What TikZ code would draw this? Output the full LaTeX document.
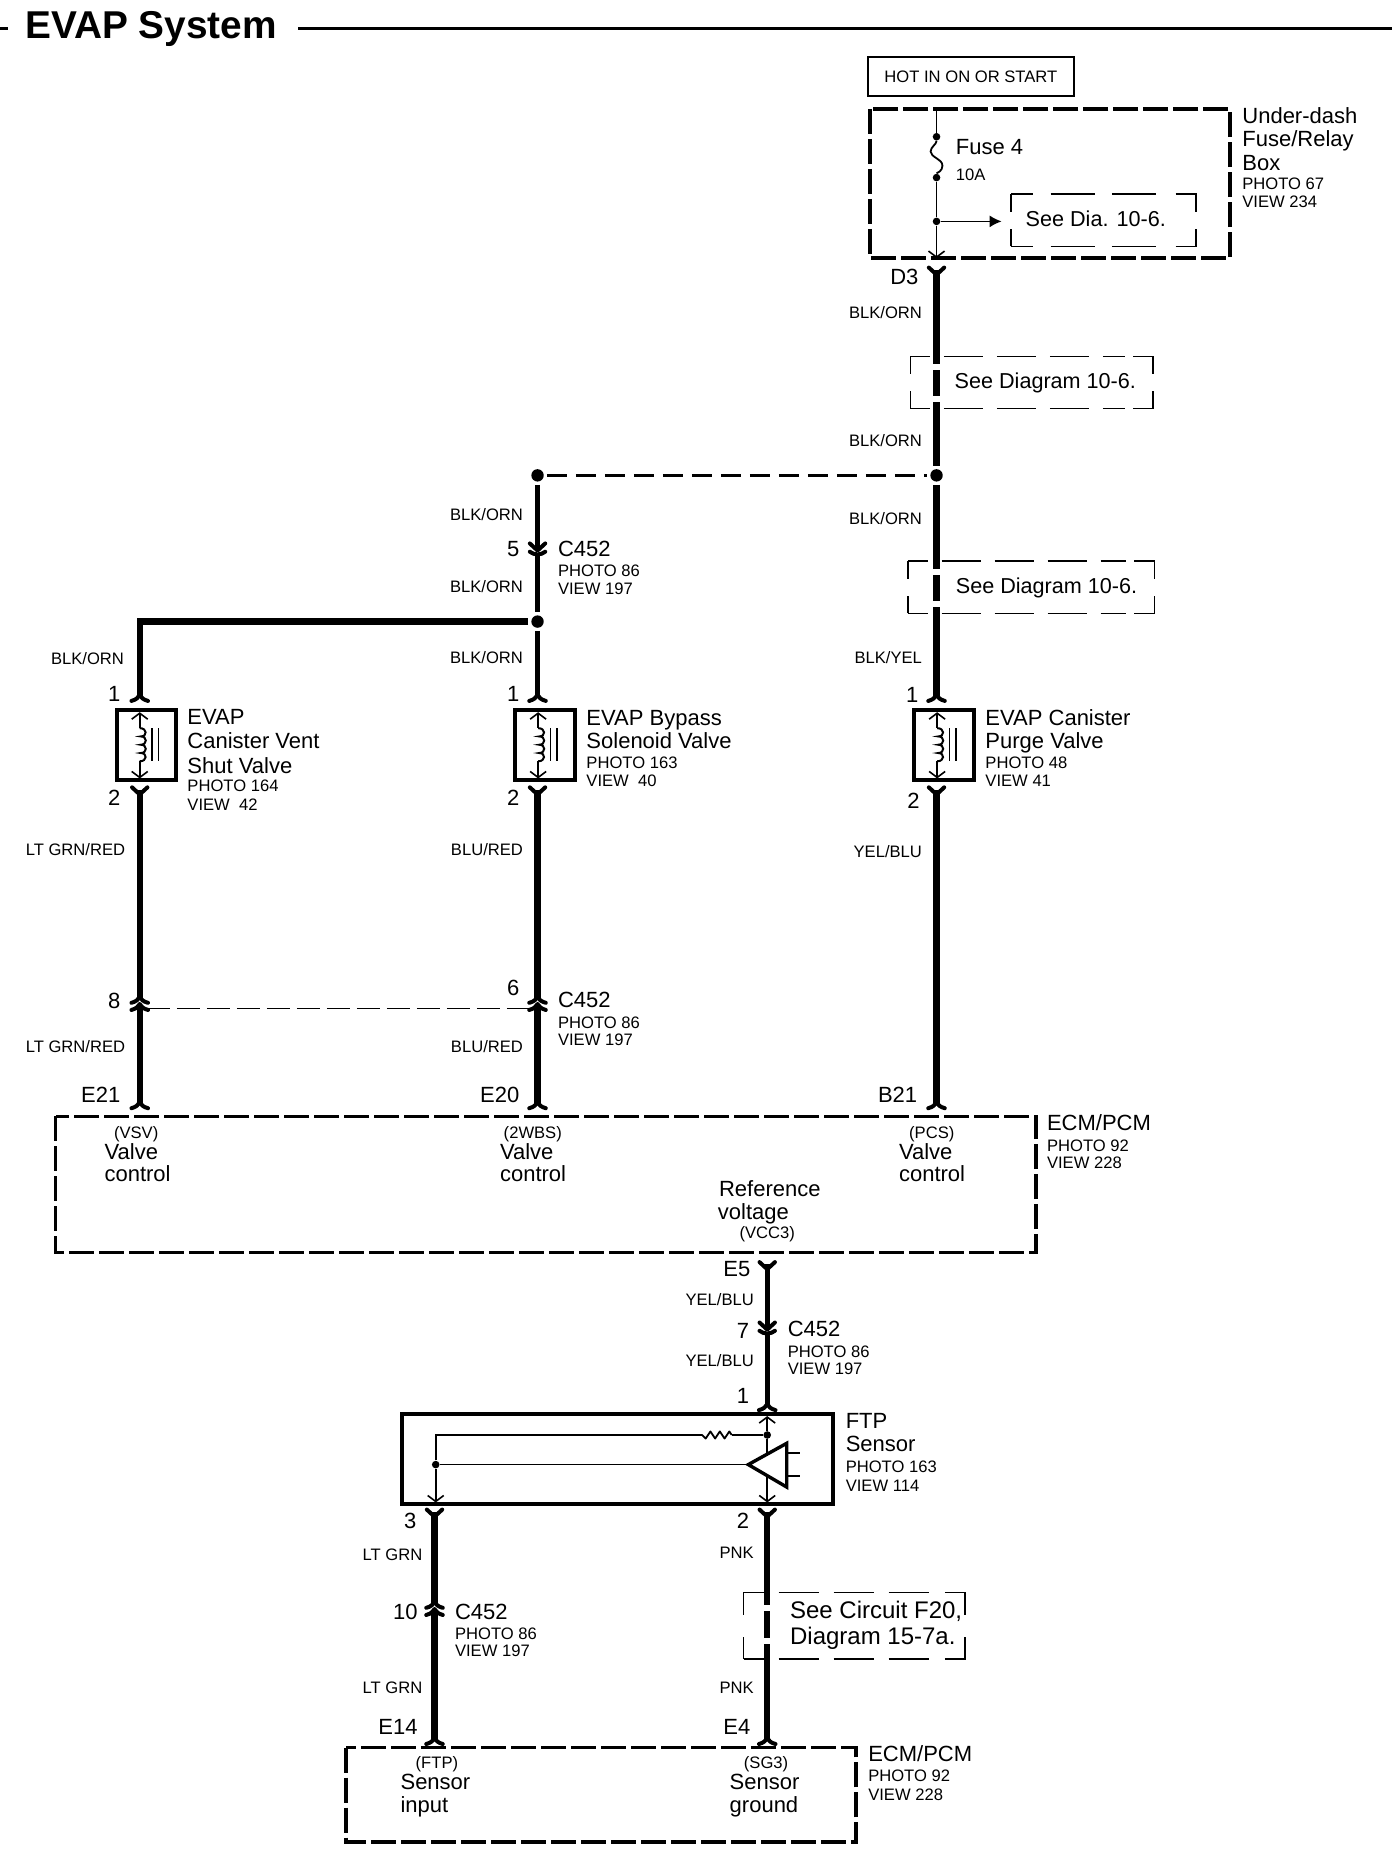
\documentclass[tikz,border=0pt]{standalone}
\usepackage{fontspec}
\setmainfont{Liberation Sans}
\usetikzlibrary{arrows.meta}
\tikzset{
  x=0.592pt,y=-0.592pt,
  big/.style={font=\fontsize{11}{12}\selectfont,inner sep=0pt},
  small/.style={font=\fontsize{8.3}{10}\selectfont,inner sep=0pt,yshift=0.5pt},
  tw/.style={anchor=mid west,yshift=-1pt},
  te/.style={anchor=mid east,yshift=-1pt},
  tc/.style={anchor=mid,yshift=-1pt},
  wire/.style={line width=3.1pt,line cap=butt},
  wirethin/.style={line width=2.5pt,line cap=butt},
  conn/.style={line width=2pt,line cap=round,line join=round},
  fine/.style={line width=0.8pt},
  oarrow/.style={fine,-{Straight Barb[length=3pt,width=8pt,line width=0.8pt]}},
  frame/.style={line width=2pt},
  ecmbox/.style={line width=1.8pt,dash pattern=on 12.5pt off 2.5pt},
  seeline/.style={line width=0.75pt},
  bus/.style={line width=1.2pt,dash pattern=on 10pt off 4.5pt},
  tie/.style={line width=0.7pt,dash pattern=on 11.5pt off 3.5pt},
  dot/.style={circle,fill=black,inner sep=0pt,minimum size=6.2pt,outer sep=1.6pt},
  sdot/.style={circle,fill=black,inner sep=0pt,minimum size=3.8pt},
  archc/.pic={\draw[conn] (-7,5) .. controls (-3,4) and (-1,2) .. (0,0) .. controls (1,2) and (3,4) .. (7,5);},
  yconn/.pic={\draw[conn] (-6.5,0) -- (0,6) -- (6.5,0);},
  vconn/.pic={\draw[conn] (-6.5,-6) -- (0,0) -- (6.5,-6);\draw[conn] (-6.5,1) .. controls (-3,4) and (3,4) .. (6.5,1);},
  valve/.pic={
    \draw[frame] (-19.5,0) rectangle (31,59);
    \draw[oarrow] (0,15) -- (0,1.5);
    \draw[oarrow] (0,43) -- (0,57.5);
    \draw[line width=1pt] (0,15) .. controls (6.5,15) and (6.5,22) .. (1,22) .. controls (6.5,22) and (6.5,29) .. (1,29) .. controls (6.5,29) and (6.5,36) .. (1,36) .. controls (6.5,36) and (6.5,43) .. (0,43);
    \draw[fine] (10.5,15) -- (10.5,43);
    \draw[fine] (15.8,15) -- (15.8,43);
  }
}
% x0,y0,x1,y1,dash on,dash off (pt)
\newcommand\seeframe[6]{%
  \pgfmathsetmacro\seeh{(#4-#2)/3}%
  \pgfmathsetmacro\seephase{#5/2}%
  \draw[seeline,dash pattern=on #5pt off #6pt,dash phase=\seephase pt] (#1,#2) -- (#3-24,#2);
  \draw[seeline,dash pattern=on #5pt off #6pt,dash phase=\seephase pt] (#1,#4) -- (#3-24,#4);
  \draw[seeline] (#3-17,#2) -- (#3,#2) -- (#3,#2+\seeh);
  \draw[seeline] (#3-17,#4) -- (#3,#4) -- (#3,#4-\seeh);
  \draw[seeline] (#1,#2) -- (#1,#2+\seeh);
  \draw[seeline] (#1,#4) -- (#1,#4-\seeh);
}
\newcommand\wiregap[2]{\fill[white] (#1-5,#2-2.5) rectangle (#1+5,#2+2.5);}
\begin{document}
\begin{tikzpicture}
\useasboundingbox (0,0) rectangle (1175.7,1567.6);
\fill[white] (0,0) rectangle (1175.7,1567.6);
% title
\coordinate (tl0) at (0,24); \coordinate (tl1) at (7,24);
\coordinate (tr0) at (252,24); \coordinate (tr1) at (1175.7,24);
\draw[line width=1.7pt] (tl0) -- (tl1);
\draw[line width=1.7pt] (tr0) -- (tr1);
\node[anchor=mid west,inner sep=0pt,font=\fontsize{19.4}{22}\selectfont\bfseries] (title) at (21,28) {EVAP System};

% top box
\node[draw,line width=1.2pt,minimum width=103pt,minimum height=19.5pt,inner sep=0pt,font=\fontsize{8.3}{10}\selectfont] (hot) at (820,64.5) {HOT IN ON OR START};
\draw[ecmbox] (735,92) rectangle (1039,218);
\coordinate (ft) at (791,92); \coordinate (fb) at (791,218);
\node[sdot] (f1) at (791,115.5) {};
\node[sdot] (f2) at (791,150) {};
\node[sdot] (f3) at (791,187) {};
\draw[fine] (ft) -- (f1);
\draw[line width=0.9pt] (f1) .. controls (791,122) and (786,124) .. (786,128) .. controls (786,133) and (796,134) .. (796,140) .. controls (796,145) and (791,146) .. (f2);
\draw[fine] (f2) -- (f3);
\draw[oarrow] (f3) -- (fb);
\coordinate (seeA) at (846,187);
\draw[line width=0.8pt,-{Latex[length=6pt,width=6pt]}] (f3) -- (seeA);
\seeframe{854}{164}{1010}{208}{22}{8.7}
\node[tw,inner sep=0pt,font=\fontsize{10.8}{12}\selectfont] (seedia) at (866,185) {See Dia. 10-6.};
\node[big,tw] (fuse) at (807,124) {Fuse 4};
\node[small,tw] (tenA) at (807,147) {10A};
\node[big,tw] (ud1) at (1049,98) {Under-dash};
\node[big,tw] (ud2) at (1049,118) {Fuse/Relay};
\node[big,tw] (ud3) at (1049,138) {Box};
\node[small,tw] (ud4) at (1049,155) {PHOTO 67};
\node[small,tw] (ud5) at (1049,170) {VIEW 234};

% right wire
\coordinate (d3) at (791,226);
\pic at (d3) {yconn};
\node[big,te] (d3l) at (776,234) {D3};
\node[dot] (j1) at (791,401.5) {};
\node[dot] (j2) at (454,401.5) {};
\node[dot] (j3) at (454,525) {};
\coordinate (r1) at (791,228);
\coordinate (r2) at (791,588);
\coordinate (a1) at (791,587);
\seeframe{769}{301}{974}{345}{19.5}{7}
\seeframe{767}{474}{975}{518}{19.5}{7}
\draw[wire] (r1) -- (j1);
\draw[wire] (j1) -- (r2);
\wiregap{791}{310}\wiregap{791}{337}\wiregap{791}{483}\wiregap{791}{510}
\pic at (a1) {archc};
\node[tw,inner sep=0pt,font=\fontsize{10.8}{12}\selectfont] (seeb1) at (806,322) {See Diagram 10-6.};
\node[tw,inner sep=0pt,font=\fontsize{10.8}{12}\selectfont] (seeb2) at (807,495) {See Diagram 10-6.};
\node[small,te] (wr1) at (779,264) {BLK/ORN};
\node[small,te] (wr2) at (779,372) {BLK/ORN};
\node[small,te] (wr3) at (779,438) {BLK/ORN};
\node[small,te] (wr4) at (779,555) {BLK/YEL};
\draw[bus] (j2) -- (j1);

% middle upper
\coordinate (m5) at (454,465);
\coordinate (m5b) at (454,469);
\coordinate (m1) at (454,588);
\coordinate (a2) at (454,587);
\coordinate (l0) at (118,525);
\coordinate (l1) at (118,588);
\coordinate (a3) at (118,587);
\draw[wirethin] (j2) -- (m5);
\pic at (m5) {vconn};
\draw[wirethin] (m5b) -- (j3);
\draw[wirethin] (j3) -- (m1);
\pic at (a2) {archc};
\draw[wire,line join=miter] (j3) -- (l0) -- (l1);
\pic at (a3) {archc};
\node[small,te] (wm1) at (442,434) {BLK/ORN};
\node[big,te] (n5) at (439,464) {5};
\node[big,tw] (c1) at (471,464) {C452};
\node[small,tw] (c1p) at (471,482) {PHOTO 86};
\node[small,tw] (c1v) at (471,497) {VIEW 197};
\node[small,te] (wm2) at (442,495) {BLK/ORN};
\node[small,te] (wm3) at (442,555) {BLK/ORN};
\node[small,te] (wl1) at (105,556) {BLK/ORN};

% valves
\coordinate (v1) at (118,600);
\coordinate (v2) at (454.5,600);
\coordinate (v3) at (791.5,600);
\pic at (v1) {valve};
\pic at (v2) {valve};
\pic at (v3) {valve};
\node[big,te] (p1a) at (102,586) {1};
\node[big,te] (p1b) at (102,674) {2};
\node[big,te] (p2a) at (439,586) {1};
\node[big,te] (p2b) at (439,674) {2};
\node[big,te] (p3a) at (776,587) {1};
\node[big,te] (p3b) at (777,677) {2};
\node[big,tw] (v1t1) at (158,606) {EVAP};
\node[big,tw] (v1t2) at (158,626) {Canister Vent};
\node[big,tw] (v1t3) at (158,647) {Shut Valve};
\node[small,tw] (v1t4) at (158,663) {PHOTO 164};
\node[small,tw] (v1t5) at (158,679) {VIEW\ \ 42};
\node[big,tw] (v2t1) at (495,607) {EVAP Bypass};
\node[big,tw] (v2t2) at (495,626) {Solenoid Valve};
\node[small,tw] (v2t3) at (495,644) {PHOTO 163};
\node[small,tw] (v2t4) at (495,659) {VIEW\ \ 40};
\node[big,tw] (v3t1) at (832,607) {EVAP Canister};
\node[big,tw] (v3t2) at (832,626) {Purge Valve};
\node[small,tw] (v3t3) at (832,644) {PHOTO 48};
\node[small,tw] (v3t4) at (832,659) {VIEW 41};

% lower wires
\coordinate (y1) at (118,665);
\coordinate (y2) at (454,665);
\coordinate (y3) at (791,665);
\pic at (y1) {yconn}; \pic at (y2) {yconn}; \pic at (y3) {yconn};
\coordinate (k1u) at (118,667); \coordinate (k1m) at (118,843);
\coordinate (k1a) at (118,842); \coordinate (k1b) at (118,848);
\coordinate (k1c) at (118,849); \coordinate (k1d) at (118,932);
\coordinate (k1e) at (118,931);
\coordinate (k2u) at (454,667); \coordinate (k2m) at (454,843);
\coordinate (k2a) at (454,842); \coordinate (k2b) at (454,848);
\coordinate (k2c) at (454,849); \coordinate (k2d) at (454,932);
\coordinate (k2e) at (454,931);
\coordinate (k3u) at (791,667); \coordinate (k3d) at (791,932); \coordinate (k3e) at (791,931);
\draw[wire] (k1u) -- (k1m); \pic at (k1a) {archc}; \pic at (k1b) {archc}; \draw[wire] (k1c) -- (k1d); \pic at (k1e) {archc};
\draw[wire] (k2u) -- (k2m); \pic at (k2a) {archc}; \pic at (k2b) {archc}; \draw[wire] (k2c) -- (k2d); \pic at (k2e) {archc};
\draw[wire] (k3u) -- (k3d); \pic at (k3e) {archc};
\coordinate (tie1) at (124,852); \coordinate (tie2) at (448,852);
\draw[tie] (tie1) -- (tie2);
\node[small,te] (wa1) at (106,717) {LT GRN/RED};
\node[small,te] (wa2) at (106,884) {LT GRN/RED};
\node[small,te] (wb1) at (442,717) {BLU/RED};
\node[small,te] (wb2) at (442,884) {BLU/RED};
\node[small,te] (wc1) at (779,719) {YEL/BLU};
\node[big,te] (n8) at (102,846) {8};
\node[big,te] (n6) at (439,835) {6};
\node[big,tw] (c2) at (471,845) {C452};
\node[small,tw] (c2p) at (471,863) {PHOTO 86};
\node[small,tw] (c2v) at (471,878) {VIEW 197};
\node[big,te] (e21) at (102,925) {E21};
\node[big,te] (e20) at (439,925) {E20};
\node[big,te] (b21) at (775,925) {B21};

% ECM upper
\draw[ecmbox] (47,943) rectangle (875,1058);
\node[small,tc] (s1) at (115,956) {(VSV)};
\node[big,tw] (s1a) at (88,973) {Valve};
\node[big,tw] (s1b) at (88,992) {control};
\node[small,tc] (s2) at (450,956) {(2WBS)};
\node[big,tw] (s2a) at (422,973) {Valve};
\node[big,tw] (s2b) at (422,992) {control};
\node[small,tc] (s3) at (787,956) {(PCS)};
\node[big,tw] (s3a) at (759,973) {Valve};
\node[big,tw] (s3b) at (759,992) {control};
\node[big,tw] (r1t) at (607,1004) {Reference};
\node[big,tw] (r2t) at (606,1024) {voltage};
\node[small,tc] (r3t) at (648,1041) {(VCC3)};
\node[big,tw] (e1) at (884,949) {ECM/PCM};
\node[small,tw] (e2) at (884,967) {PHOTO 92};
\node[small,tw] (e3) at (884,982) {VIEW 228};

% FTP feed
\coordinate (e5) at (648,1066);
\coordinate (e5b) at (648,1068);
\coordinate (c7) at (648,1123);
\coordinate (c7b) at (648,1127);
\coordinate (a7) at (648,1186);
\coordinate (a7b) at (648,1187);
\pic at (e5) {yconn};
\draw[wirethin] (e5b) -- (c7);
\pic at (c7) {vconn};
\draw[wirethin] (c7b) -- (a7b);
\pic at (a7) {archc};
\node[big,te] (e5l) at (634,1072) {E5};
\node[small,te] (wd1) at (637,1097) {YEL/BLU};
\node[small,te] (wd2) at (637,1149) {YEL/BLU};
\node[big,te] (n7) at (633,1124) {7};
\node[big,tw] (c3) at (665,1123) {C452};
\node[small,tw] (c3p) at (665,1141) {PHOTO 86};
\node[small,tw] (c3v) at (665,1156) {VIEW 197};
\node[big,te] (n1) at (633,1179) {1};

% FTP sensor
\draw[frame] (339.5,1194) rectangle (703.5,1270);
\coordinate (q1) at (368,1212);
\node[sdot] (q2) at (368,1237) {};
\node[sdot] (q3) at (648,1212) {};
\coordinate (rs0) at (591,1212);
\coordinate (rs1) at (618,1212);
\coordinate (tt) at (632,1237);
\coordinate (ttop) at (664.5,1219);
\coordinate (tbot) at (664.5,1256);
\coordinate (pt) at (648,1196);
\coordinate (pb) at (648,1269);
\coordinate (pl) at (368,1269);
\coordinate (tq) at (648,1228);
\coordinate (tr) at (648,1246);
\draw[fine] (q3) -- (rs1);
\draw[line width=0.9pt,line join=round] (rs1) -- ++(-2,-3) -- ++(-4,6) -- ++(-4,-6) -- ++(-4,6) -- ++(-4,-6) -- ++(-4,6) -- ++(-3,-3) -- (rs0);
\draw[fine] (rs0) -- (q1) -- (q2);
\draw[oarrow] (q2) -- (pl);
\draw[fine] (q2) -- (tt);
\draw[oarrow] (q3) -- (pt);
\draw[fine] (q3) -- (tq);
\draw[oarrow] (tr) -- (pb);
\draw[line width=1.7pt,line join=miter] (tt) -- (ttop) -- (tbot) -- cycle;
\coordinate (st1a) at (664.5,1227); \coordinate (st1b) at (676,1227);
\coordinate (st2a) at (664.5,1246.5); \coordinate (st2b) at (676,1246.5);
\draw[fine] (st1a) -- (st1b);
\draw[fine] (st2a) -- (st2b);
\node[big,tw] (ftp1) at (714,1200) {FTP};
\node[big,tw] (ftp2) at (714,1220) {Sensor};
\node[small,tw] (ftp3) at (714,1238) {PHOTO 163};
\node[small,tw] (ftp4) at (714,1254) {VIEW 114};

% lower wires
\coordinate (y4) at (367,1275);
\coordinate (y5) at (648,1275);
\pic at (y4) {yconn}; \pic at (y5) {yconn};
\coordinate (g1) at (367,1277);
\coordinate (g2) at (367,1354);
\coordinate (g3) at (367,1353);
\coordinate (g4) at (367,1359);
\coordinate (g5) at (367,1360);
\coordinate (g6) at (367,1469);
\coordinate (g7) at (367,1468);
\coordinate (h1) at (648,1277);
\coordinate (h2) at (648,1469);
\coordinate (h3) at (648,1468);
\seeframe{628}{1345}{815}{1401}{20}{7.5}
\draw[wire] (g1) -- (g2); \pic at (g3) {archc}; \pic at (g4) {archc}; \draw[wire] (g5) -- (g6); \pic at (g7) {archc};
\draw[wire] (h1) -- (h2); \pic at (h3) {archc};
\wiregap{648}{1358}\wiregap{648}{1386}
\node[big,te] (n3) at (352,1285) {3};
\node[big,te] (n2) at (633,1285) {2};
\node[small,te] (wf1) at (357,1313) {LT GRN};
\node[small,te] (wf2) at (357,1425) {LT GRN};
\node[small,te] (wg1) at (637,1311) {PNK};
\node[small,te] (wg2) at (637,1425) {PNK};
\node[big,te] (n10) at (353,1362) {10};
\node[big,tw] (c4) at (384,1362) {C452};
\node[small,tw] (c4p) at (384,1379) {PHOTO 86};
\node[small,tw] (c4v) at (384,1394) {VIEW 197};
\node[tw,inner sep=0pt,font=\fontsize{12}{14}\selectfont] (see1) at (667,1361) {See Circuit F20,};
\node[tw,inner sep=0pt,font=\fontsize{12}{14}\selectfont] (see2) at (667,1383) {Diagram 15-7a.};
\node[big,te] (e14) at (353,1459) {E14};
\node[big,te] (e4) at (634,1459) {E4};

% ECM lower
\draw[ecmbox] (292,1476) rectangle (723,1556);
\node[small,tc] (z1) at (369,1488) {(FTP)};
\node[big,tw] (z1a) at (338,1505) {Sensor};
\node[big,tw] (z1b) at (338,1525) {input};
\node[small,tc] (z2) at (647,1488) {(SG3)};
\node[big,tw] (z2a) at (616,1505) {Sensor};
\node[big,tw] (z2b) at (616,1525) {ground};
\node[big,tw] (z3) at (733,1482) {ECM/PCM};
\node[small,tw] (z4) at (733,1499) {PHOTO 92};
\node[small,tw] (z5) at (733,1515) {VIEW 228};
\end{tikzpicture}
\end{document}
